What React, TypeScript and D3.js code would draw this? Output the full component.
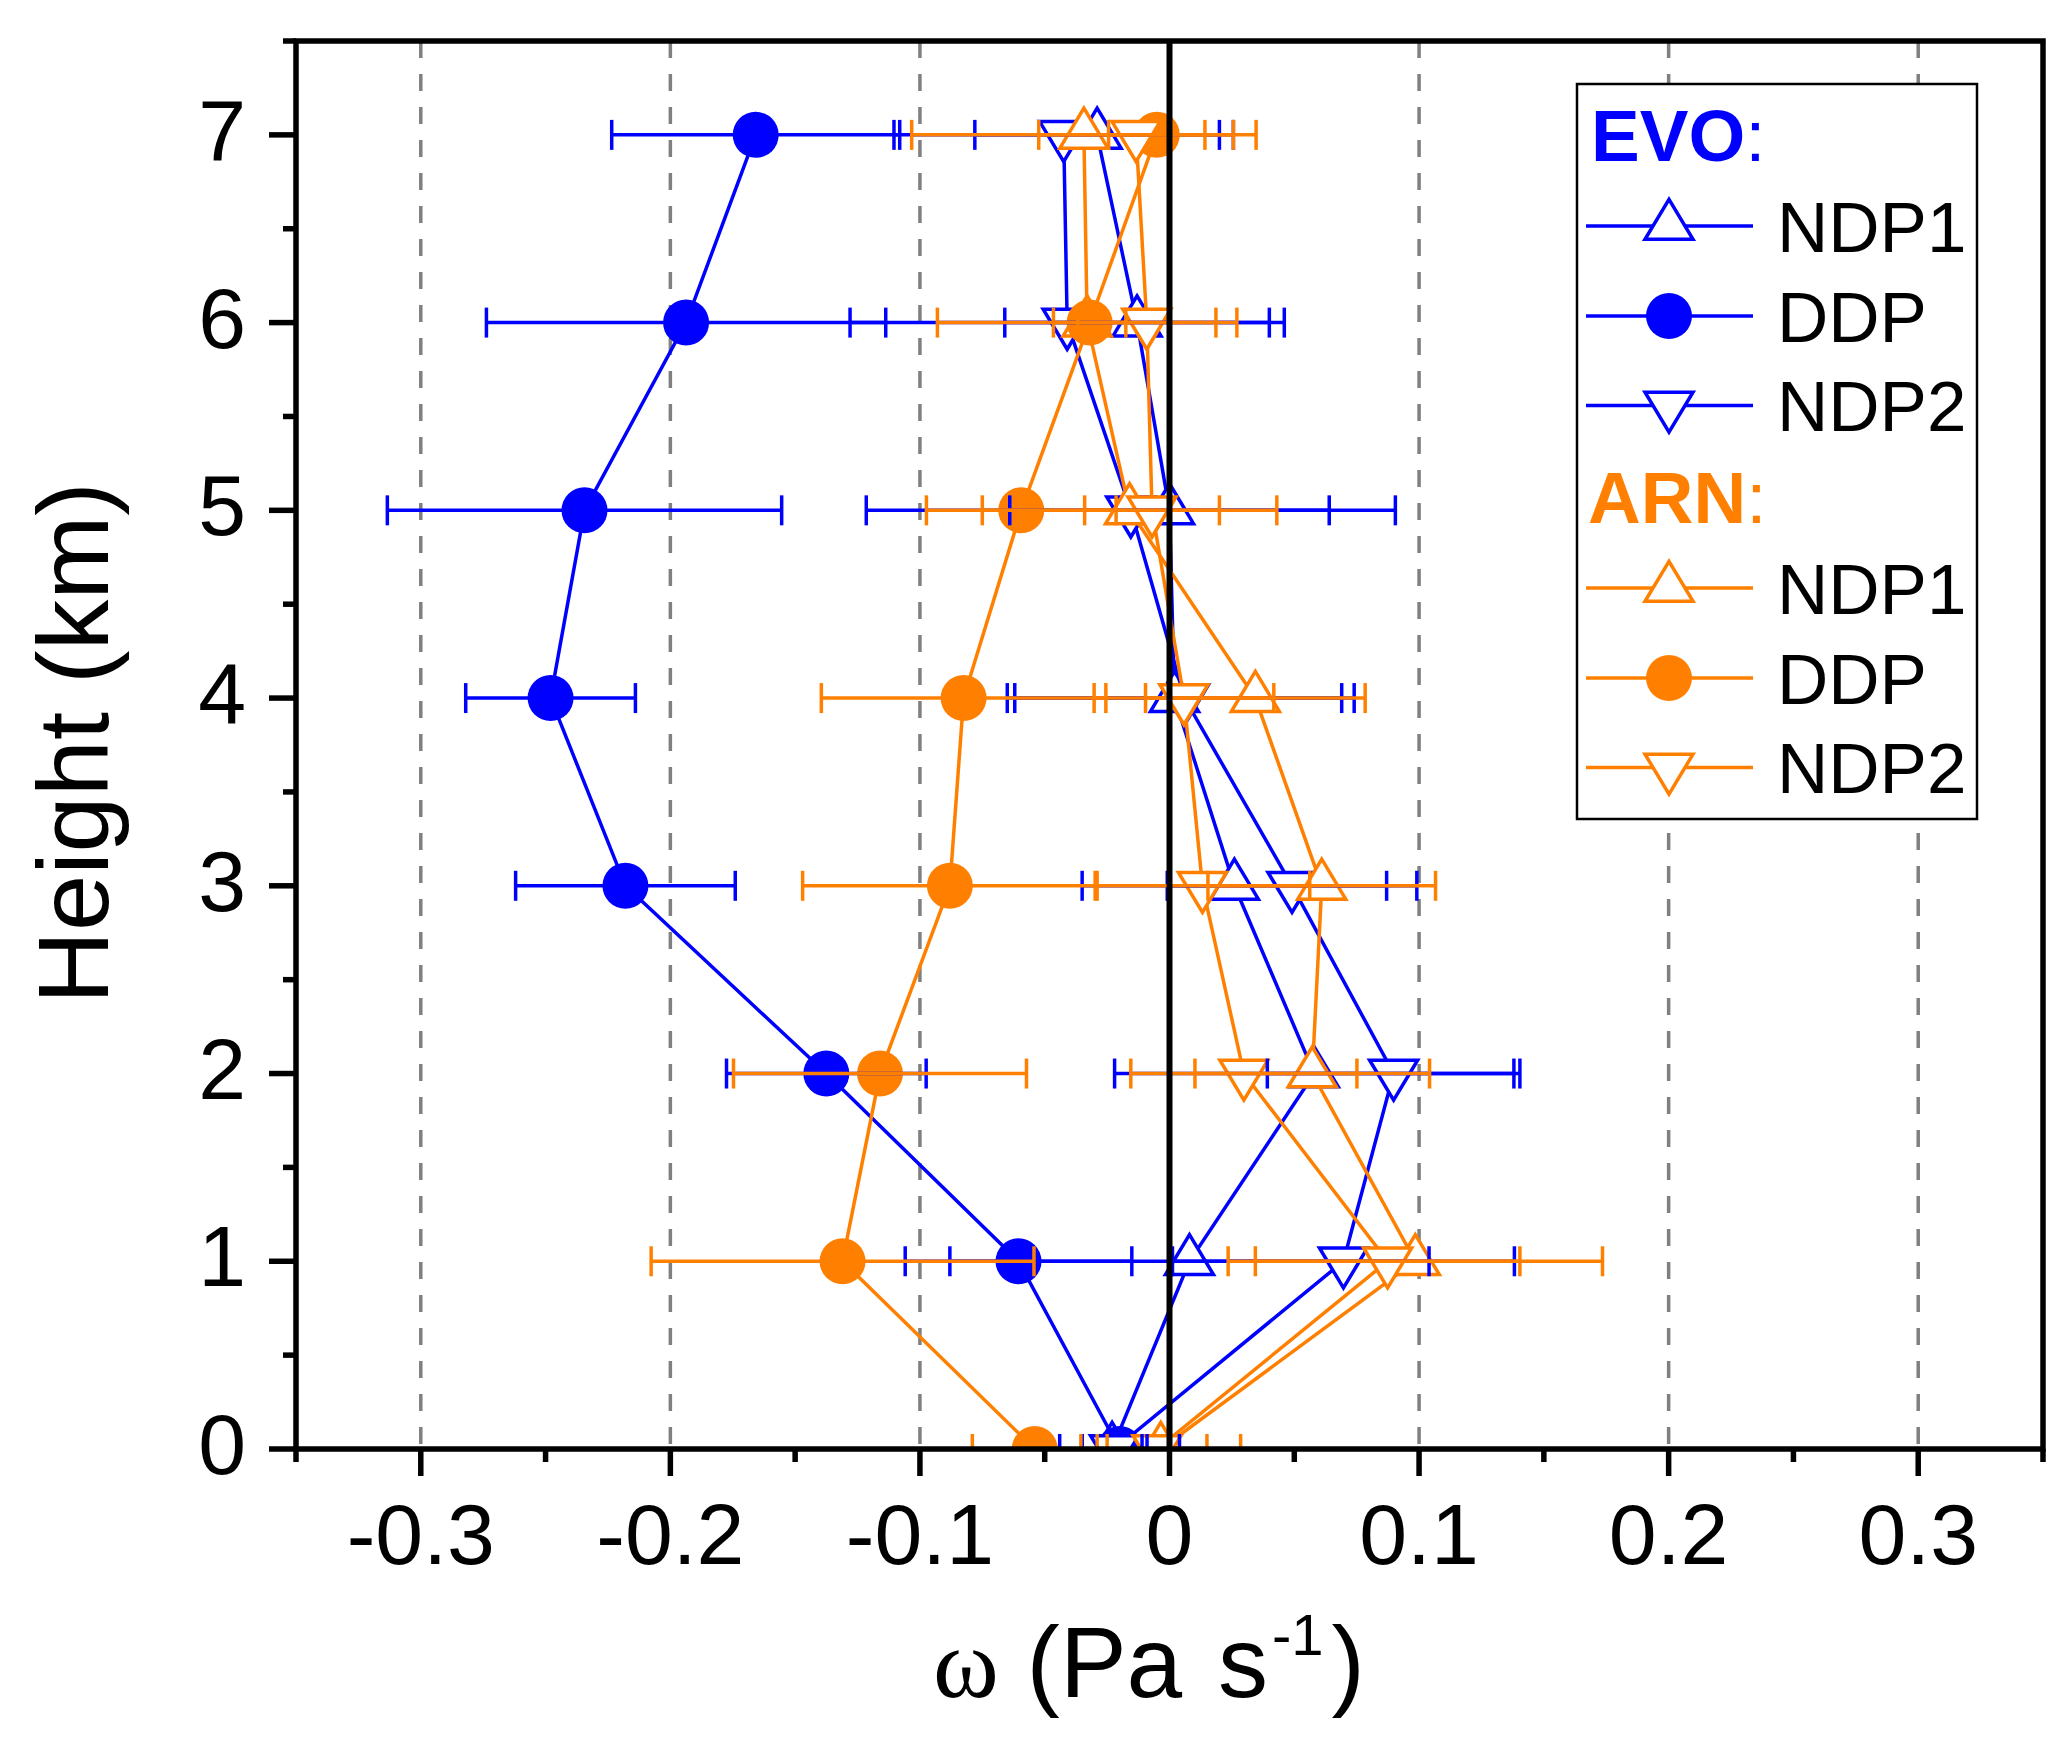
import React from 'react';
import * as d3 from 'd3';

// ---- data (height in km, omega in Pa s^-1) ----
const heights = [0, 1, 2, 3, 4, 5, 6, 7];

const evoNdp1 = [-0.023, 0.008, 0.058, 0.026, 0.002, 0.0, -0.013, -0.029];
const evoNdp1Err = [0.012, 0.096, 0.08, 0.061, 0.067, 0.064, 0.053, 0.049];
const evoDdp = [-0.02, -0.0605, -0.1375, -0.218, -0.248, -0.2344, -0.1937, -0.1658];
const evoDdpErr = [0.024, 0.0454, 0.04, 0.044, 0.034, 0.079, 0.08, 0.0577];
const evoNdp2 = [-0.022, 0.0697, 0.0898, 0.0491, 0.006, -0.0155, -0.041, -0.0424];
const evoNdp2Err = [0.013, 0.0685, 0.0506, 0.05, 0.068, 0.106, 0.087, 0.068];

const arnNdp1 = [-0.0035, 0.0985, 0.0572, 0.061, 0.0344, -0.016, -0.033, -0.0343];
const arnNdp1Err = [0.032, 0.075, 0.047, 0.0456, 0.044, 0.059, 0.06, 0.069];
const arnDdp = [-0.054, -0.131, -0.116, -0.088, -0.0825, -0.0594, -0.032, -0.0051];
const arnDdpErr = [0.025, 0.0767, 0.0587, 0.059, 0.057, 0.038, 0.0145, 0.0193];
const arnNdp2 = [-0.005, 0.0874, 0.0298, 0.0132, 0.0058, -0.007, -0.0091, -0.0134];
const arnNdp2Err = [0.02, 0.053, 0.0453, 0.043, 0.036, 0.027, 0.0277, 0.039];

const xMajorTicks = [-0.3, -0.2, -0.1, 0, 0.1, 0.2, 0.3];
const xTickLabels = ['-0.3', '-0.2', '-0.1', '0', '0.1', '0.2', '0.3'];
const xMinorTicks = [-0.35, -0.25, -0.15, -0.05, 0.05, 0.15, 0.25, 0.35];
const yMajorTicks = [0, 1, 2, 3, 4, 5, 6, 7];
const yMinorTicks = [0.5, 1.5, 2.5, 3.5, 4.5, 5.5, 6.5, 7.5];

const BLUE = '#0000FF';
const ORANGE = '#FF8000';

type Shape = 'up' | 'circle' | 'down';
interface Series {
  name: string;
  color: string;
  shape: Shape;
  values: number[];
  errors: number[];
}

const evoSeries: Series[] = [
  { name: 'NDP1', color: BLUE, shape: 'up', values: evoNdp1, errors: evoNdp1Err },
  { name: 'DDP', color: BLUE, shape: 'circle', values: evoDdp, errors: evoDdpErr },
  { name: 'NDP2', color: BLUE, shape: 'down', values: evoNdp2, errors: evoNdp2Err },
];
const arnSeries: Series[] = [
  { name: 'NDP1', color: ORANGE, shape: 'up', values: arnNdp1, errors: arnNdp1Err },
  { name: 'DDP', color: ORANGE, shape: 'circle', values: arnDdp, errors: arnDdpErr },
  { name: 'NDP2', color: ORANGE, shape: 'down', values: arnNdp2, errors: arnNdp2Err },
];
const allSeries = [...evoSeries, ...arnSeries];

// ---- layout ----
const W = 2071;
const H = 1738;
const left = 296;
const right = 2043;
const top = 41;
const bottom = 1449;

const SANS = '"Liberation Sans", Arial, Helvetica, sans-serif';
const SERIF = '"Liberation Serif", "Times New Roman", serif';

const x = d3.scaleLinear().domain([-0.35, 0.35]).range([left, right]);
const y = d3.scaleLinear().domain([0, 7.5]).range([bottom, top]);

const TRI_W = 48;
const TRI_H = 40;
function marker(shape: Shape, cx: number, cy: number, color: string, key: string) {
  if (shape === 'circle') {
    return <circle key={key} cx={cx} cy={cy} r={23} fill={color} />;
  }
  const h = TRI_H;
  const w = TRI_W / 2;
  const d =
    shape === 'up'
      ? `M${cx},${cy - (2 * h) / 3}L${cx + w},${cy + h / 3}L${cx - w},${cy + h / 3}Z`
      : `M${cx},${cy + (2 * h) / 3}L${cx + w},${cy - h / 3}L${cx - w},${cy - h / 3}Z`;
  return (
    <path key={key} d={d} fill="#FFFFFF" stroke={color} strokeWidth={3.5} strokeLinejoin="miter" />
  );
}

const line = d3
  .line<number>()
  .x((v) => x(v))
  .y((_, i) => y(heights[i]));

export default function App() {
  const legendRowsY = [226, 316, 405.5, 588, 678, 767.5];
  const legendEntries = [...evoSeries, ...arnSeries];

  return (
    <svg
      width={W}
      height={H}
      viewBox={`0 0 ${W} ${H}`}
      style={{ position: 'absolute', left: 0, top: 0, background: '#fff' }}
    >
      <defs>
        <clipPath id="plotClip">
          <rect x={left} y={top} width={right - left} height={bottom - top} />
        </clipPath>
      </defs>
      <rect x={0} y={0} width={W} height={H} fill="#fff" />

      {/* grid lines */}
      {xMajorTicks
        .filter((t) => t !== 0)
        .map((t) => (
          <line
            key={`g${t}`}
            x1={x(t)}
            x2={x(t)}
            y1={top}
            y2={bottom}
            stroke="#808080"
            strokeWidth={3.5}
            strokeDasharray="17,16"
          />
        ))}

      <g clipPath="url(#plotClip)">
        {/* lines and markers */}
        {allSeries.map((s, si) => (
          <g key={`s${si}`}>
            <path d={line(s.values) || ''} fill="none" stroke={s.color} strokeWidth={3.5} />
            {s.values.map((v, i) => marker(s.shape, x(v), y(heights[i]), s.color, `m${si}-${i}`))}
          </g>
        ))}
        {/* error bars */}
        {allSeries.map((s, si) => (
          <g key={`e${si}`} stroke={s.color} strokeWidth={3.5}>
            {s.values.map((v, i) => {
              const yy = y(heights[i]);
              const x1 = x(v - s.errors[i]);
              const x2 = x(v + s.errors[i]);
              return (
                <g key={i}>
                  <line x1={x1} x2={x2} y1={yy} y2={yy} />
                  <line x1={x1} x2={x1} y1={yy - 15} y2={yy + 15} />
                  <line x1={x2} x2={x2} y1={yy - 15} y2={yy + 15} />
                </g>
              );
            })}
          </g>
        ))}
      </g>

      {/* zero line */}
      <line x1={x(0)} x2={x(0)} y1={top} y2={bottom} stroke="#000" strokeWidth={6} />

      {/* frame */}
      <rect
        x={left}
        y={top}
        width={right - left}
        height={bottom - top}
        fill="none"
        stroke="#000"
        strokeWidth={5.5}
      />

      {/* x ticks */}
      {xMajorTicks.map((t) => (
        <line key={`xt${t}`} x1={x(t)} x2={x(t)} y1={bottom} y2={bottom + 27} stroke="#000" strokeWidth={5.5} />
      ))}
      {xMinorTicks.map((t) => (
        <line key={`xm${t}`} x1={x(t)} x2={x(t)} y1={bottom} y2={bottom + 13} stroke="#000" strokeWidth={5.5} />
      ))}
      {xMajorTicks.map((t, i) => (
        <text
          key={`xl${t}`}
          x={x(t)}
          y={1564}
          textAnchor="middle"
          fontFamily={SANS}
          fontSize={86}
          fill="#000"
        >
          {xTickLabels[i]}
        </text>
      ))}

      {/* y ticks */}
      {yMajorTicks.map((t) => (
        <line key={`yt${t}`} x1={left - 27} x2={left} y1={y(t)} y2={y(t)} stroke="#000" strokeWidth={5.5} />
      ))}
      {yMinorTicks.map((t) => (
        <line key={`ym${t}`} x1={left - 13} x2={left} y1={y(t)} y2={y(t)} stroke="#000" strokeWidth={5.5} />
      ))}
      {yMajorTicks.map((t) => (
        <text
          key={`yl${t}`}
          x={246}
          y={y(t) + 25}
          textAnchor="end"
          fontFamily={SANS}
          fontSize={86}
          fill="#000"
        >
          {String(t)}
        </text>
      ))}

      {/* axis titles */}
      <text x={933} y={1697} fontSize={100} fill="#000" fontFamily={SANS}>
        <tspan fontFamily={SERIF}>ω</tspan>
        <tspan> (Pa </tspan>
        <tspan dx={8}>s</tspan>
        <tspan fontSize={58} dx={4} dy={-42}>-1</tspan>
        <tspan dx={8} dy={42}>)</tspan>
      </text>
      <text
        transform={`translate(108,743) rotate(-90)`}
        textAnchor="middle"
        fontFamily={SANS}
        fontSize={101}
        fill="#000"
      >
        Height (km)
      </text>

      {/* legend */}
      <rect x={1577} y={84} width={400} height={735} fill="#fff" stroke="#000" strokeWidth={2.5} />
      <text x={1591} y={161} fontFamily={SANS} fontSize={73} fill={BLUE}>
        <tspan fontWeight="bold">EVO</tspan>
        <tspan>:</tspan>
      </text>
      <text x={1588} y={523} fontFamily={SANS} fontSize={73} fill={ORANGE}>
        <tspan fontWeight="bold">ARN</tspan>
        <tspan>:</tspan>
      </text>
      {legendEntries.map((s, i) => {
        const ly = legendRowsY[i];
        return (
          <g key={`lg${i}`}>
            <line x1={1586} x2={1753} y1={ly} y2={ly} stroke={s.color} strokeWidth={3.5} />
            {marker(s.shape, 1669, ly, s.color, `lm${i}`)}
            <text x={1777} y={ly + 25.5} fontFamily={SANS} fontSize={71} fill="#000">
              {s.name}
            </text>
          </g>
        );
      })}
    </svg>
  );
}
